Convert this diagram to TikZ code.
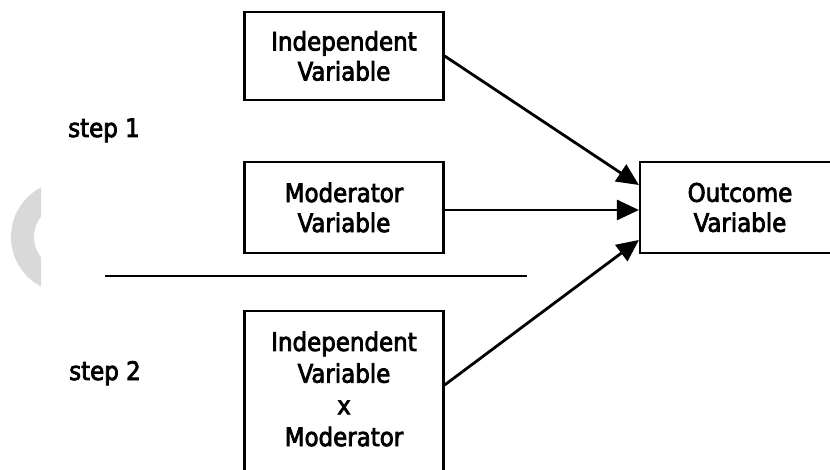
\documentclass[tikz,border=0pt]{standalone}
\usepackage{fontspec}
\setmainfont{DejaVu Sans}
\newfontfamily\diagfont{DejaVu Sans Condensed}[FakeBold=3]
\usetikzlibrary{arrows.meta,calc}
\definecolor{crescent}{HTML}{D9D9D9}
\begin{document}
\begin{tikzpicture}[x=1pt,y=-1pt,
  box/.style={draw=black, line width=2.2pt, minimum width=199pt, align=center, inner sep=0pt,
              font=\diagfont\fontsize{25.5}{30}\selectfont},
  boxtext/.style={align=center, inner sep=0pt, font=\diagfont\fontsize{25.5}{31.7}\selectfont},
  steplabel/.style={font=\diagfont\fontsize{25.5}{25}\selectfont, anchor=base west, inner sep=0pt},
  arr/.style={line width=2.8pt, -{Triangle[length=22pt,width=20pt]}},
  rule/.style={line width=2.4pt}]
\useasboundingbox (0,0) rectangle (830,470);
\clip (0,0) rectangle (830,470);
\fill[white] (0,0) rectangle (830,470);
\begin{scope}
  \clip (0,0) rectangle (41,470);
  \fill[crescent, even odd rule] (67,237) circle[radius=56pt] (67,237) circle[radius=33pt];
\end{scope}
\node[box, minimum height=88pt] (iv) at (344,56) {\raisebox{-2pt}{Independent}\\\raisebox{-2pt}{Variable}};
\node[box, minimum height=91pt] (mod) at (344,207.5) {Moderator\\Variable};
\node[box, minimum height=165pt] (ivm) at (344,393.5) {};
\node[boxtext] (ivmt) at (344,389) {Independent\\Variable\\x\\Moderator};
\node[box, minimum width=200pt, minimum height=91pt] (out) at (740,207.5) {Outcome\\Variable};
\node[steplabel] (s1) at (68,137) {step 1};
\node[steplabel] (s2) at (69,380) {step 2};
\coordinate (la) at (105,276);
\coordinate (lb) at (527,276);
\draw[rule] (la) -- (lb);
\draw[arr] (iv.east) -- ([yshift=22.5pt]out.west);
\draw[arr] ([yshift=-2.5pt]mod.east) -- ([yshift=-2.5pt]out.west);
\draw[arr] ([yshift=8.5pt]ivm.east) -- ([yshift=-32.5pt]out.west);
\end{tikzpicture}
\end{document}
